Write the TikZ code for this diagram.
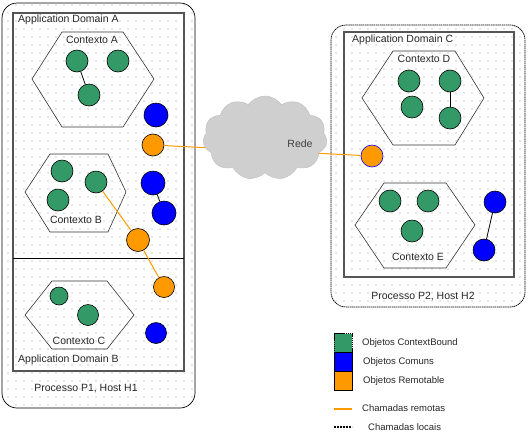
\documentclass[tikz,border=0pt]{standalone}
\usepackage{fontspec}
\setmainfont{Liberation Sans}
\usetikzlibrary{shapes.symbols,patterns.meta}
\definecolor{ctxgreen}{HTML}{339966}
\definecolor{comblue}{HTML}{0000FF}
\definecolor{remorange}{HTML}{FF9900}
\definecolor{boxgray}{HTML}{555555}
\begin{document}
\begin{tikzpicture}[x=1pt,y=-1pt,
  lbl/.style={font=\fontsize{10.5}{12}\selectfont, inner sep=0pt, text=black!85},
  dotfill/.style={pattern={Dots[distance=8pt,radius=0.7pt]}, pattern color=gray!80},
  procbox/.style={draw=black, line width=0.7pt, rounded corners=15pt, dotfill},
  dombox/.style={draw=boxgray, line width=1.3pt},
  hexa/.style={draw=black!80, line width=0.6pt},
  objbase/.style={circle, draw=black, line width=0.6pt, inner sep=0pt, minimum size=#1},
  gobj/.style={objbase=#1, fill=ctxgreen},
  bobj/.style={objbase=#1, fill=comblue},
  oobj/.style={objbase=#1, fill=remorange},
  remote/.style={draw=remorange, line width=1pt},
  local/.style={draw=black, line width=0.8pt},
  legbox/.style={draw=black, line width=0.8pt, minimum width=18pt, minimum height=19pt, inner sep=0pt},
  legtxt/.style={lbl, anchor=west, font=\fontsize{9.5}{11}\selectfont}
]
\useasboundingbox (0,0) rectangle (529,437);

% Process boxes
\path[procbox] (2,3) rectangle (195,408);
\path[procbox, dash pattern=on 1.5pt off 0.6pt] (331,25) rectangle (525,307);

% Domain boxes
\draw[dombox] (13,13) rectangle (184,371);
\draw[black, line width=1pt] (13,258) -- (184,258);
\draw[dombox] (344,32) rectangle (514,277);

% Hexagons
\draw[hexa] (32,79) -- (62,32) -- (123,32) -- (154,79) -- (123,127) -- (62,127) -- cycle;
\draw[hexa] (25,192) -- (50,154) -- (108,154) -- (126,192) -- (108,232) -- (50,232) -- cycle;
\draw[hexa] (25,315) -- (52,281) -- (107,281) -- (134,315) -- (107,349) -- (52,349) -- cycle;
\draw[hexa] (362,98) -- (393,51) -- (455,51) -- (484,98) -- (455,145) -- (393,145) -- cycle;
\draw[hexa] (355,225) -- (384,183) -- (446,183) -- (475,225) -- (446,268) -- (384,268) -- cycle;

% Labels
\node[lbl, anchor=west] (tDA) at (18,20) {Application Domain A};
\node[lbl] (tCA) at (92,40) {Contexto A};
\node[lbl] (tCB) at (76,220) {Contexto B};
\node[lbl] (tCC) at (79,341) {Contexto C};
\node[lbl, anchor=west] (tDB) at (18,360) {Application Domain B};
\node[lbl] (tP1) at (86,389) {Processo P1, Host H1};
\node[lbl, anchor=west] (tDC) at (352,40) {Application Domain C};
\node[lbl] (tCD) at (424,59) {Contexto D};
\node[lbl] (tCE) at (418,257) {Contexto E};
\node[lbl] (tP2) at (423,296) {Processo P2, Host H2};

% Remote call across the network (behind the cloud)
\node[oobj=22pt] (oA) at (153,145) {};
\node[oobj=22pt, draw=comblue] (oD) at (372,156) {};
\draw[remote] (oA) -- (oD);

% Cloud
\node[cloud, cloud puffs=11, cloud puff arc=110, aspect=1.5, draw=gray!50, fill=gray!38,
      minimum width=124pt, minimum height=84pt, inner sep=0pt] (net) at (265,138) {};
\node[lbl, text=black!75] (tRede) at (300,144) {Rede};

% Objects in P1
\node[gobj=22pt] (a1) at (77,61) {};
\node[gobj=22pt] (a2) at (118,61) {};
\node[gobj=22pt] (a3) at (89,95) {};
\node[bobj=24pt] (bA) at (156,115) {};
\node[gobj=22pt] (b1) at (62,171) {};
\node[gobj=22pt] (b2) at (96,182) {};
\node[gobj=22pt] (b3) at (58,200) {};
\node[bobj=24pt] (bB1) at (153,183) {};
\node[bobj=24pt] (bB2) at (164,213) {};
\node[oobj=23pt] (oB) at (138,240) {};
\node[gobj=18pt] (c1) at (59,296) {};
\node[gobj=21pt] (c2) at (88,315) {};
\node[oobj=21pt] (oC) at (164,287) {};
\node[bobj=21pt] (bC) at (156,333) {};

% Objects in P2
\node[gobj=22pt] (d1) at (409,81) {};
\node[gobj=22pt] (d2) at (450,81) {};
\node[gobj=22pt] (d3) at (412,107) {};
\node[gobj=22pt] (d4) at (450,118) {};
\node[gobj=22pt] (e1) at (390,201) {};
\node[gobj=22pt] (e2) at (428,201) {};
\node[gobj=22pt] (e3) at (412,231) {};
\node[bobj=22pt] (bE1) at (495,202) {};
\node[bobj=22pt] (bE2) at (484,250) {};

% Local calls
\draw[local] (a1) -- (a3);
\draw[local] (bB1) -- (bB2);
\draw[local] (d2) -- (d4);
\draw[local] (bE1) -- (bE2);

% Remote calls inside P1
\draw[remote] (b2) -- (oB) -- (oC);

% Legend
\node[legbox, dash pattern=on 1.5pt off 0.6pt, fill=ctxgreen] (lg) at (343,343) {};
\node[legbox, fill=comblue] (lb) at (343,362) {};
\node[legbox, fill=remorange] (lo) at (343,381) {};
\node[legtxt] (tlg) at (362,343) {Objetos ContextBound};
\node[legtxt] (tlb) at (363,362) {Objetos Comuns};
\node[legtxt] (tlo) at (363,381) {Objetos Remotable};
\coordinate (lr1) at (334,409);
\coordinate (lr2) at (352,409);
\draw[remorange, line width=2pt] (lr1) -- (lr2);
\node[legtxt] (tlr) at (362,408) {Chamadas remotas};
\coordinate (ll1) at (334,427);
\coordinate (ll2) at (352,427);
\draw[black, line width=2.2pt, dash pattern=on 2pt off 1pt] (ll1) -- (ll2);
\node[legtxt] (tll) at (368,427) {Chamadas locais};
\end{tikzpicture}
\end{document}
